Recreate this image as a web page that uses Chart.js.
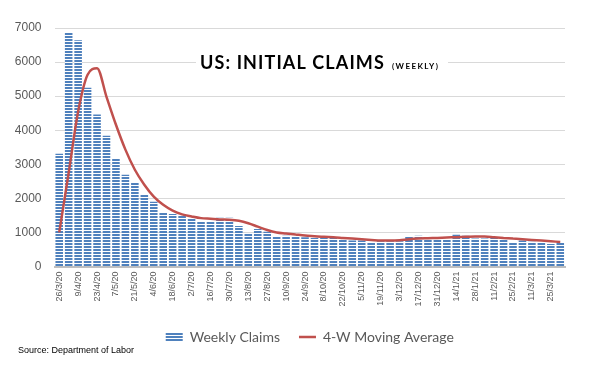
<!DOCTYPE html>
<html>
<head>
<meta charset="utf-8">
<script src="https://cdn.jsdelivr.net/npm/chart.js@4.4.0/dist/chart.umd.min.js"></script>
<style>
  html, body { margin: 0; padding: 0; background: #fff; }
</style>
</head>
<body>
<canvas id="claims-chart" width="591" height="375"></canvas>
<script>
// week labels (release dates), only every other one is printed on the axis
const weeks = [
  "26/3/20", "2/4/20", "9/4/20", "16/4/20", "23/4/20", "30/4/20", "7/5/20", "14/5/20",
  "21/5/20", "28/5/20", "4/6/20", "11/6/20", "18/6/20", "25/6/20", "2/7/20", "9/7/20",
  "16/7/20", "23/7/20", "30/7/20", "6/8/20", "13/8/20", "20/8/20", "27/8/20", "3/9/20",
  "10/9/20", "17/9/20", "24/9/20", "1/10/20", "8/10/20", "15/10/20", "22/10/20", "29/10/20",
  "5/11/20", "12/11/20", "19/11/20", "26/11/20", "3/12/20", "10/12/20", "17/12/20", "24/12/20",
  "31/12/20", "7/1/21", "14/1/21", "21/1/21", "28/1/21", "4/2/21", "11/2/21", "18/2/21",
  "25/2/21", "4/3/21", "11/3/21", "18/3/21", "25/3/21", "1/4/21"
];

// thousands
const weeklyClaims = [
  3310, 6870, 6640, 5250, 4460, 3840, 3170, 2690, 2450, 2130,
  1900, 1580, 1540, 1490, 1400, 1320, 1320, 1430, 1430, 1190,
  970, 1100, 1020, 880, 900, 880, 860, 840, 840, 840,
  780, 760, 760, 700, 740, 740, 740, 870, 900, 820,
  780, 800, 930, 900, 820, 820, 840, 800, 720, 760,
  730, 720, 660, 720
];

const movingAverage = [
  1000, 2750, 4550, 5630, 5820, 4980, 4160, 3430, 2840, 2400,
  2050, 1810, 1640, 1530, 1470, 1420, 1400, 1380, 1370, 1340,
  1270, 1170, 1070, 1000, 970, 940, 910, 890, 870, 860,
  840, 820, 800, 780, 760, 760, 770, 800, 820, 830,
  840, 850, 860, 870, 880, 880, 860, 840, 820, 800,
  780, 760, 740, 720
];

const yTicks = [0, 1000, 2000, 3000, 4000, 5000, 6000, 7000];

Chart.defaults.font.family = "'Liberation Sans', Arial, sans-serif";
Chart.defaults.color = "#595959";

// striped fill for the bars (blue with thin white lines)
const stripeCanvas = document.createElement("canvas");
stripeCanvas.width = 4;
stripeCanvas.height = 3;
const sctx = stripeCanvas.getContext("2d");
sctx.fillStyle = "#ffffff";
sctx.fillRect(0, 0, 4, 3);
sctx.fillStyle = "#4f81bd";
sctx.fillRect(0, 0, 4, 2);
const stripes = sctx.createPattern(stripeCanvas, "repeat");

const titleAndSource = {
  id: "titleAndSource",
  afterDraw(chart) {
    const ctx = chart.ctx;
    ctx.save();
    ctx.fillStyle = "#ffffff";
    ctx.fillRect(196, 48, 252, 28);

    ctx.fillStyle = "#000000";
    ctx.textBaseline = "alphabetic";
    ctx.textAlign = "left";
    ctx.font = "bold 18px Lato";
    ctx.letterSpacing = "1.1px";
    ctx.fillText("US: INITIAL CLAIMS", 200, 69);
    ctx.font = "bold 8px Lato";
    ctx.letterSpacing = "1.4px";
    ctx.fillText("(WEEKLY)", 392, 69);

    ctx.letterSpacing = "0px";
    ctx.font = "9px 'Liberation Sans'";
    ctx.textBaseline = "middle";
    ctx.fillText("Source: Department of Labor", 18, 351);
    ctx.restore();
  }
};

new Chart(document.getElementById("claims-chart"), {
  type: "bar",
  data: {
    labels: weeks,
    datasets: [
      {
        label: "Weekly Claims",
        data: weeklyClaims,
        backgroundColor: stripes,
        borderWidth: 0,
        barPercentage: 0.8,
        categoryPercentage: 1.0,
        order: 2
      },
      {
        type: "line",
        label: "4-W Moving Average",
        data: movingAverage,
        borderColor: "#c0504d",
        borderWidth: 2.5,
        pointRadius: 0,
        fill: false,
        cubicInterpolationMode: "monotone",
        order: 1
      }
    ]
  },
  plugins: [titleAndSource],
  options: {
    responsive: false,
    animation: false,
    layout: { padding: { left: 0, right: 26, top: 28, bottom: 21 } },
    scales: {
      x: {
        afterFit: function(scale) { scale.height = 44.5; },
        grid: { display: false, drawTicks: false },
        border: { color: "#bfbfbf", width: 2 },
        ticks: {
          autoSkip: false,
          maxRotation: 90,
          minRotation: 90,
          padding: 5,
          font: { size: 9 },
          callback: function(val, i) { return i % 2 === 0 ? weeks[i] : ""; }
        }
      },
      y: {
        min: 0,
        max: 7000,
        afterFit: function(scale) { scale.width = 54.5; },
        afterBuildTicks: function(scale) { scale.ticks = yTicks.map(v => ({ value: v })); },
        grid: { color: "#d9d9d9", drawTicks: false },
        border: { display: false },
        ticks: {
          padding: 13,
          font: { size: 12 },
          callback: function(v) { return String(v); }
        }
      }
    },
    plugins: {
      legend: {
        position: "bottom",
        fullSize: false,
        labels: {
          usePointStyle: true,
          pointStyleWidth: 17,
          boxWidth: 17,
          boxHeight: 9,
          padding: 19,
          color: "#595959",
          font: { size: 14, family: "Lato" },
          generateLabels: function() {
            return [
              { text: "Weekly Claims", fillStyle: stripes, strokeStyle: "rgba(0,0,0,0)", lineWidth: 0, pointStyle: "rect", fontColor: "#595959", datasetIndex: 0 },
              { text: "4-W Moving Average", fillStyle: "#c0504d", strokeStyle: "#c0504d", lineWidth: 2.5, pointStyle: "line", fontColor: "#595959", datasetIndex: 1 }
            ];
          }
        }
      },
      title: { display: false },
      tooltip: { enabled: false }
    }
  }
});
</script>
</body>
</html>
